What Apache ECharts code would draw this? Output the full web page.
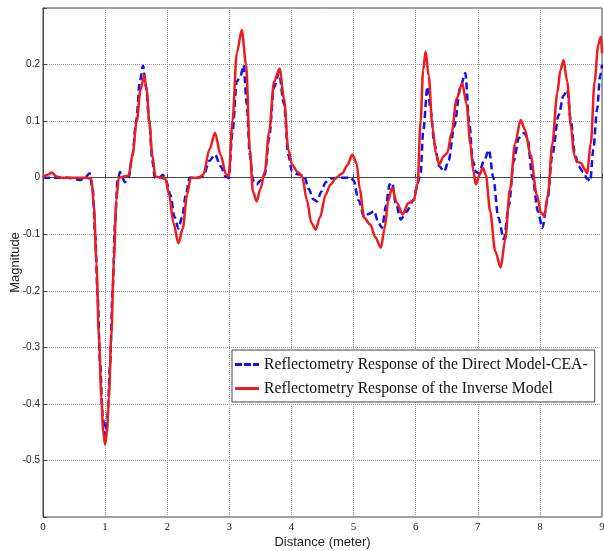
<!DOCTYPE html>
<html>
<head>
<meta charset="utf-8">
<script src="https://cdn.jsdelivr.net/npm/echarts@6/dist/echarts.min.js"></script>
<style>
html,body{margin:0;padding:0;background:#fff;}
#c{width:604px;height:551px;}
</style>
</head>
<body>
<div id="c"></div>
<script>
var seriesNames = ['Reflectometry Response of the Direct Model-CEA-', 'Reflectometry Response of the Inverse Model'];
var xTicks = [0,1,2,3,4,5,6,7,8,9];
var yTicks = [-0.5,-0.4,-0.3,-0.2,-0.1,0,0.1,0.2];

var directDist = [0,0.2,0.4,0.6,0.68,0.75,0.8,0.84,0.88,0.92,0.96,1.0,1.04,1.08,1.12,1.16,1.2,1.24,1.28,1.32,1.38,1.44,1.5,1.56,1.61,1.66,1.71,1.76,1.8,1.87,1.93,1.98,2.05,2.12,2.18,2.24,2.3,2.36,2.5,2.58,2.68,2.77,2.86,2.94,2.99,3.05,3.12,3.18,3.23,3.28,3.33,3.38,3.44,3.5,3.57,3.64,3.72,3.8,3.88,3.95,4.01,4.1,4.2,4.28,4.35,4.41,4.48,4.55,4.65,4.8,4.95,5.0,5.08,5.17,5.25,5.33,5.4,5.46,5.52,5.58,5.62,5.68,5.76,5.85,5.97,6.03,6.08,6.12,6.19,6.24,6.3,6.38,6.46,6.53,6.62,6.72,6.8,6.86,6.92,6.97,7.02,7.1,7.18,7.25,7.33,7.42,7.5,7.58,7.66,7.75,7.8,7.88,7.97,8.04,8.12,8.2,8.3,8.38,8.44,8.5,8.56,8.62,8.7,8.76,8.81,8.86,8.92,8.97,9.0];
var directMag = [0,0,0,-0.004,0,0.008,-0.02,-0.1,-0.21,-0.33,-0.42,-0.456,-0.42,-0.33,-0.2,-0.08,-0.005,0.01,0,-0.008,0,0.04,0.1,0.17,0.198,0.16,0.1,0.03,0,0,0.005,-0.005,-0.03,-0.07,-0.09,-0.07,-0.03,0,0,0.003,0.03,0.041,0.02,0.002,-0.001,0.08,0.17,0.18,0.199,0.13,0.04,-0.004,-0.012,-0.005,0.005,0.07,0.16,0.185,0.13,0.04,0.011,0.006,0.004,-0.02,-0.038,-0.042,-0.025,-0.008,-0.001,0,0,-0.005,-0.04,-0.069,-0.064,-0.059,-0.08,-0.089,-0.05,-0.012,-0.009,-0.045,-0.074,-0.06,-0.039,-0.01,0.008,0.08,0.161,0.12,0.06,0.02,0.011,0.03,0.09,0.16,0.185,0.1,0.03,0.01,0.008,0.03,0.049,0,-0.07,-0.109,-0.05,0.03,0.07,0.079,0.07,0,-0.06,-0.089,-0.04,0.04,0.11,0.145,0.155,0.1,0.045,0.02,0.01,-0.002,-0.006,0.05,0.12,0.18,0.2];

var inverseDist = [0,0.07,0.14,0.22,0.3,0.5,0.7,0.78,0.82,0.86,0.9,0.94,0.97,1.0,1.03,1.06,1.1,1.14,1.18,1.22,1.3,1.38,1.44,1.51,1.57,1.63,1.67,1.71,1.76,1.81,1.9,1.97,2.03,2.1,2.18,2.25,2.32,2.38,2.5,2.58,2.68,2.77,2.86,2.95,2.99,3.05,3.12,3.2,3.27,3.33,3.38,3.44,3.5,3.57,3.64,3.72,3.81,3.88,3.95,4.01,4.1,4.17,4.25,4.32,4.39,4.46,4.55,4.63,4.72,4.82,4.9,4.98,5.05,5.1,5.17,5.27,5.35,5.44,5.5,5.56,5.62,5.7,5.79,5.88,5.97,6.03,6.08,6.12,6.16,6.21,6.27,6.33,6.38,6.45,6.51,6.58,6.66,6.75,6.82,6.88,6.93,6.97,7.03,7.08,7.13,7.2,7.28,7.37,7.44,7.52,7.6,7.69,7.76,7.85,7.95,8.02,8.07,8.13,8.2,8.28,8.33,8.38,8.44,8.5,8.55,8.6,8.66,8.72,8.76,8.82,8.88,8.94,8.98,9.0];
var inverseMag = [0,0.005,0.009,0.002,0,0,0,-0.002,-0.05,-0.15,-0.28,-0.39,-0.45,-0.472,-0.45,-0.39,-0.28,-0.15,-0.04,0,0.002,0.004,0.04,0.1,0.155,0.181,0.155,0.1,0.04,0.002,0,-0.002,-0.03,-0.08,-0.116,-0.09,-0.03,0,0,0.005,0.05,0.079,0.04,0.005,0.002,0.1,0.22,0.261,0.2,0.05,-0.025,-0.042,-0.02,0.01,0.08,0.17,0.193,0.14,0.05,0.023,0.01,0.003,-0.04,-0.08,-0.092,-0.07,-0.03,-0.012,0,0.008,0.022,0.041,0.025,-0.02,-0.071,-0.083,-0.105,-0.124,-0.09,-0.04,-0.018,-0.045,-0.065,-0.045,-0.04,-0.01,0.1,0.19,0.223,0.18,0.09,0.04,0.023,0.038,0.044,0.08,0.14,0.167,0.13,0.06,0.01,-0.012,0.005,0.018,0.005,-0.06,-0.13,-0.159,-0.11,-0.02,0.06,0.102,0.085,0.04,-0.03,-0.062,-0.068,-0.03,0.06,0.15,0.19,0.208,0.17,0.09,0.04,0.028,0.026,0.015,0.008,0.06,0.17,0.235,0.249,0.22];

function zip(a, b) { return a.map(function (v, i) { return [v, b[i]]; }); }

var blueColor = '#1010ee';
var redColor = '#ee1c1c';
var dashIcon = 'path://M0,0h7v3h-7z M9,0h7v3h-7z M18,0h6v3h-6z';
var solidIcon = 'path://M0,0h24v3h-24z';

var chart = echarts.init(document.getElementById('c'), null, {renderer: 'canvas'});
var gridColor = '#9a9a9a';
chart.setOption({
  animation: false,
  backgroundColor: '#fff',
  grid: {left: 43, right: 2, top: 8, bottom: 34, containLabel: false, outerBoundsMode: 'none',
    show: true, borderColor: '#444', borderWidth: 1},
  legend: {
    left: 232, top: 350, orient: 'vertical',
    backgroundColor: '#fff', borderColor: '#444', borderWidth: 1,
    padding: [5, 7, 4, 3], itemGap: 5, itemWidth: 24, itemHeight: 3,
    textStyle: {fontFamily: 'Liberation Serif', fontSize: 15.7, color: '#111', lineHeight: 19},
    data: [
      {name: seriesNames[0], icon: dashIcon, itemStyle: {color: blueColor}},
      {name: seriesNames[1], icon: solidIcon, itemStyle: {color: redColor}}
    ]
  },
  xAxis: {
    type: 'value', min: 0, max: 9, interval: 1,
    name: 'Distance (meter)', nameLocation: 'middle', nameGap: 19, nameMoveOverlap: false,
    nameTextStyle: {fontFamily: 'Liberation Sans', fontSize: 13, color: '#222'},
    axisLine: {lineStyle: {color: '#444'}},
    axisTick: {inside: true, length: 4, lineStyle: {color: '#444'}},
    axisLabel: {fontFamily: 'Liberation Serif', fontSize: 11, color: '#222', margin: 5,
      formatter: function (v) { return xTicks.indexOf(v) >= 0 ? String(v) : ''; }},
    splitLine: {show: true, lineStyle: {type: 'dotted', color: gridColor, width: 1}}
  },
  yAxis: {
    type: 'value', min: -0.6, max: 0.3, interval: 0.1,
    name: 'Magnitude', nameLocation: 'middle', nameGap: 21, nameRotate: 90, nameMoveOverlap: false,
    nameTextStyle: {fontFamily: 'Liberation Sans', fontSize: 13, color: '#222'},
    axisLine: {show: true, lineStyle: {color: '#444'}},
    axisTick: {inside: true, length: 4, lineStyle: {color: '#444'}},
    axisLabel: {fontFamily: 'Liberation Sans', fontSize: 10, color: '#222', margin: 3,
      formatter: function (v) {
        var r = Math.round(v * 10) / 10;
        for (var i = 0; i < yTicks.length; i++) { if (Math.abs(yTicks[i] - r) < 1e-9) return String(r); }
        return '';
      }},
    splitLine: {show: true, lineStyle: {type: 'dotted', color: gridColor, width: 1}}
  },
  series: [
    {
      name: seriesNames[0], type: 'line', data: zip(directDist, directMag),
      showSymbol: false, symbol: 'none', smooth: 0.3, smoothMonotone: 'x', z: 2,
      itemStyle: {color: blueColor},
      lineStyle: {color: blueColor, width: 2.5, type: [7, 4]}
    },
    {
      name: seriesNames[1], type: 'line', data: zip(inverseDist, inverseMag),
      showSymbol: false, symbol: 'none', smooth: 0.3, smoothMonotone: 'x', z: 3,
      itemStyle: {color: redColor},
      lineStyle: {color: redColor, width: 2.5}
    }
  ]
});
</script>
</body>
</html>
